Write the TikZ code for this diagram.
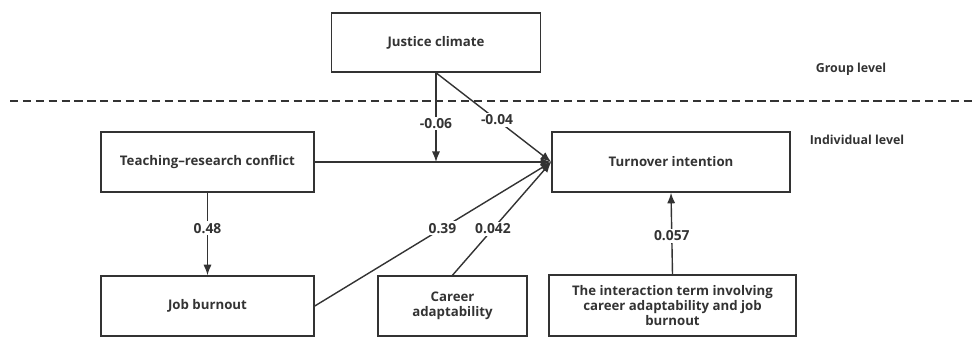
\documentclass[tikz,border=0pt]{standalone}
\usepackage{fontspec}
\setmainfont{Open Sans}
\usetikzlibrary{arrows.meta}

\definecolor{ink}{HTML}{333333}

\tikzset{
    box/.style={draw=ink, line width=1.3pt, text=ink, font=\bfseries\fontsize{11.3}{13}\selectfont,
        align=center, inner sep=2pt},
    path/.style={draw=ink, line width=1.2pt, -{Latex[length=9pt,width=7pt]}},
    coef/.style={fill=white, text=ink, font=\bfseries\fontsize{11.8}{13}\selectfont, inner sep=1.5pt}
}

\begin{document}
\begin{tikzpicture}[x=0.03cm, y=-0.03cm]

\useasboundingbox (0,0) rectangle (976,341);

% Level divider
\draw[ink, line width=1.3pt, dash pattern=on 7pt off 4pt] (10,101) -- (976,101);
\node[text=ink, font=\bfseries\fontsize{10.6}{12}\selectfont] (group) at (851,69) {Group level};
\node[text=ink, font=\bfseries\fontsize{10.6}{12}\selectfont] (indiv) at (857,140) {Individual level};

% Boxes
\node[box, minimum width=6.27cm, minimum height=1.77cm] (just) at (436,42.5) {Justice climate};
\node[box, minimum width=6.39cm, minimum height=1.8cm] (teach) at (207.5,162) {Teaching--research conflict};
\node[box, minimum width=7.14cm, minimum height=1.8cm] (turn) at (671,162) {Turnover intention};
\node[box, minimum width=6.39cm, minimum height=1.8cm] (burn) at (207.5,306) {Job burnout};
\node[box, minimum width=4.47cm, minimum height=1.8cm] (career) at (452.5,306) {Career\\adaptability};
\node[box, minimum width=7.41cm, minimum height=1.83cm] (inter) at (672.5,305.5)
{The interaction term involving\\
career adaptability and job\\
burnout};

% Paths
\draw[path] (teach.east) -- (turn.west);
\draw[path] (just.south) -- (just.south |- turn.west) node[coef, pos=0.57] {-0.06};
\draw[path] (just.south) -- (turn.west) node[coef, pos=0.53] {-0.04};
\draw[path] (burn.east) -- (turn.west) node[coef, pos=0.54] {0.39};
\draw[path] (career.north) -- (turn.west) node[coef, pos=0.41] {0.042};
\draw[path] (teach.south) -- (burn.north) node[coef, pos=0.43] {0.48};
\draw[path] (inter.north) -- (turn.south) node[coef, pos=0.47] {0.057};

\end{tikzpicture}
\end{document}
